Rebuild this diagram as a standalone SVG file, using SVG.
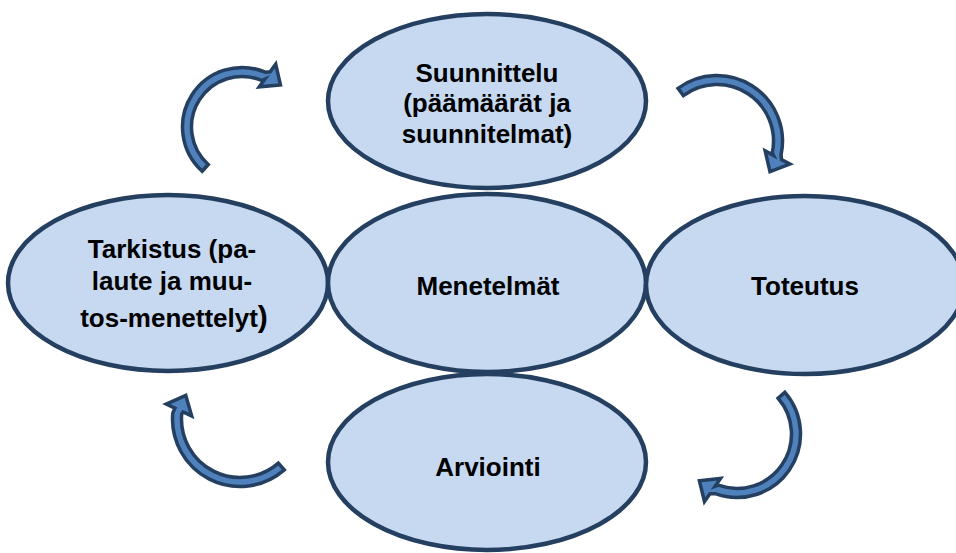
<svg xmlns="http://www.w3.org/2000/svg" width="956" height="553" viewBox="0 0 956 553">
  <style>
    .node ellipse { fill: #C6D9F1; stroke: #243F60; stroke-width: 4.5; }
    .label { font-family: "Liberation Sans", Arial, sans-serif; font-weight: bold; font-size: 26px; fill: #000; text-anchor: middle; }
    .cycle { fill: #4F81BD; stroke: #243F60; stroke-width: 3.5; stroke-linejoin: miter; }
  </style>
  <rect width="956" height="553" fill="#FFFFFF"/>

  <g id="suunnittelu" class="node">
    <ellipse cx="487" cy="101" rx="159" ry="87"/>
    <text class="label" x="487" y="82">Suunnittelu</text>
    <text class="label" x="487" y="112">(päämäärät ja</text>
    <text class="label" x="487" y="143">suunnitelmat)</text>
  </g>

  <g id="tarkistus" class="node">
    <ellipse cx="168" cy="283" rx="160" ry="88"/>
    <text class="label" x="172" y="258">Tarkistus (pa-</text>
    <text class="label" x="172" y="290">laute ja muu-</text>
    <text class="label" x="174" y="327">tos-menettelyt<tspan font-size="30">)</tspan></text>
  </g>

  <g id="menetelmat" class="node">
    <ellipse cx="487" cy="283" rx="159" ry="89"/>
    <text class="label" x="488" y="295">Menetelmät</text>
  </g>

  <g id="toteutus" class="node">
    <ellipse cx="805" cy="285" rx="159" ry="89"/>
    <text class="label" x="805" y="295">Toteutus</text>
  </g>

  <g id="arviointi" class="node">
    <ellipse cx="487" cy="462" rx="159" ry="88"/>
    <text class="label" x="488" y="476">Arviointi</text>
  </g>

  <!-- curved block arrows running clockwise round the cycle -->
  <g id="connectors">
    <path class="cycle" d="M202.19,171.21 A59.5,59.5 0 0 1 265.25,72.23 L270.15,71.86 L275.73,64.17 L280.44,84.9 L259.27,86.83 L264.85,79.14 L261.73,80.51 A50.5,50.5 0 0 0 208.21,164.53 Z"/>
    <path class="cycle" d="M678.04,88.34 A65.5,65.5 0 0 1 781.07,154.62 L781.47,159.61 L789.86,164.07 L770.0,171.6 L765.14,150.93 L773.53,155.39 L772.26,152.75 A56.5,56.5 0 0 0 683.39,95.58 Z"/>
    <path class="cycle" d="M784.92,392.34 A63.5,63.5 0 0 1 715.28,493.67 L709.92,493.69 L704.47,501.47 L699.39,480.82 L720.53,478.53 L715.08,486.31 L718.36,485.21 A54.5,54.5 0 0 0 778.13,398.24 Z"/>
    <path class="cycle" d="M284.29,469.94 A67.5,67.5 0 0 1 172.76,413.12 L174.92,408.10 L166.31,404.08 L185.76,395.50 L191.69,415.92 L183.08,411.90 L181.72,413.90 A58.5,58.5 0 0 0 278.38,463.15 Z"/>
  </g>
</svg>
